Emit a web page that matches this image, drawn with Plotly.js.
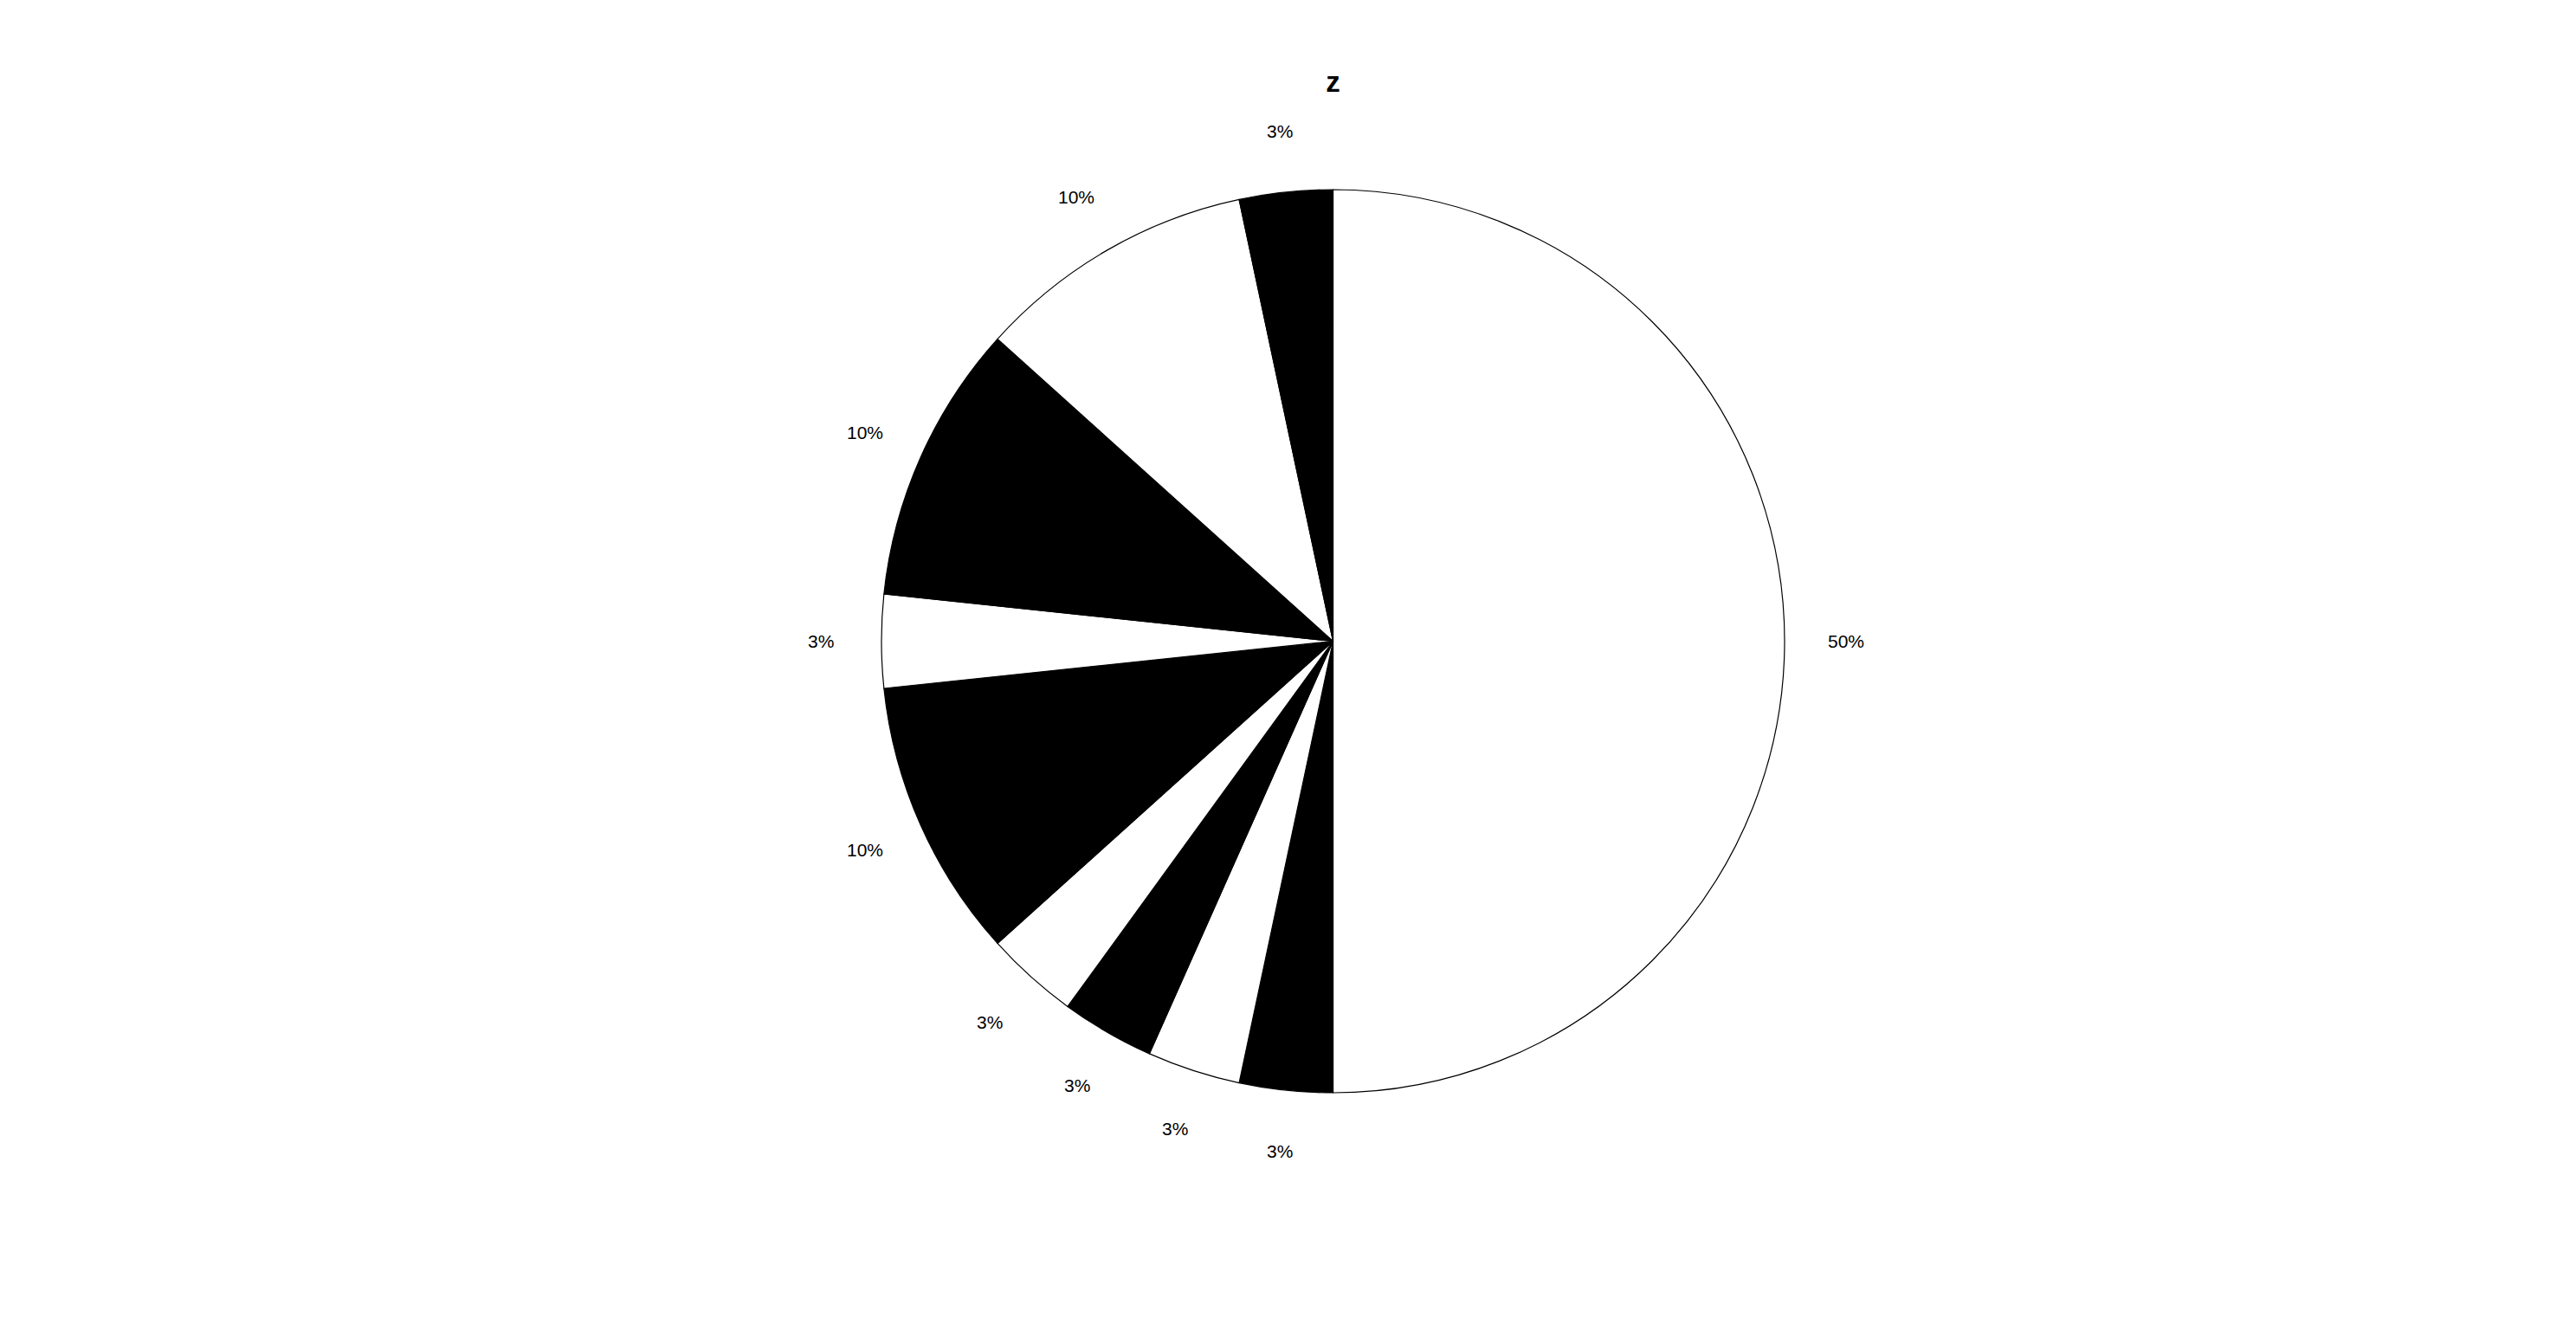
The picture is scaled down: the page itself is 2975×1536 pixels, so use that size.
<!DOCTYPE html>
<html>
<head>
<meta charset="utf-8">
<script src="https://cdn.plot.ly/plotly-3.0.1.min.js"></script>
<style>html,body{margin:0;padding:0;background:#fff;}#chart{width:2975px;height:1536px;}</style>
</head>
<body>
<div id="chart"></div>
<script>
var categories = ["A", "B", "C", "D", "E", "F", "G", "H", "I", "J"];
var values = [15, 1, 1, 1, 1, 3, 1, 3, 3, 1];
var sliceColors = ["white", "black", "white", "black", "white", "black", "white", "black", "white", "black"];
var chartTitle = "z";

var W = 2975, H = 1536;
var cx = 1539.5, cy = 740.5, r = 521.5, rLabel = 592;
var ml = 2 * cx - W;
function dom(rad) {
  var c = (H - cy) / H, h = rad / H;
  return {x: [0, 1], y: [c - h, c + h]};
}

var pieMain = {
  type: "pie",
  labels: categories,
  values: values,
  sort: false,
  direction: "clockwise",
  rotation: 0,
  marker: {colors: sliceColors, line: {color: "black", width: 1.2}},
  textposition: "none",
  domain: dom(r),
  showlegend: false,
  hoverinfo: "label+percent"
};

// percentage labels placed at the mid-angle of each slice, computed from the values
var total = values.reduce(function(a, b){ return a + b; }, 0);
var annotations = [];
var cum = 0;
values.forEach(function(v) {
  var frac = (cum + v / 2) / total;
  cum += v;
  var ang = 2 * Math.PI * frac;
  var px = cx + rLabel * Math.sin(ang);
  var py = cy - rLabel * Math.cos(ang);
  annotations.push({
    xref: "paper", yref: "paper",
    x: (px - ml) / (W - ml), y: 1 - py / H,
    xanchor: "center", yanchor: "middle",
    text: Math.round(100 * v / total) + "%",
    showarrow: false,
    font: {family: "Liberation Sans, Arial, sans-serif", size: 21, color: "black"}
  });
});

var layout = {
  width: W, height: H,
  margin: {l: ml, r: 0, t: 0, b: 0},
  paper_bgcolor: "white",
  plot_bgcolor: "white",
  title: {
    text: "<b>" + chartTitle + "</b>",
    x: cx / W, xanchor: "center",
    y: 1 - 94 / H, yanchor: "middle", yref: "container",
    font: {family: "Liberation Sans, Arial, sans-serif", size: 33, color: "black"}
  },
  annotations: annotations,
  showlegend: false
};

Plotly.newPlot("chart", [pieMain], layout, {displayModeBar: false, staticPlot: true});
</script>
</body>
</html>
